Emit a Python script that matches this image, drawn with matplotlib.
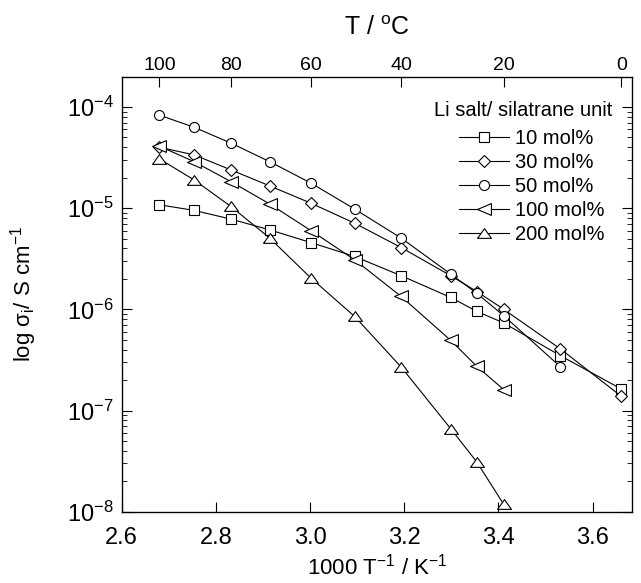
import numpy as np
import matplotlib
matplotlib.use("Agg")
from matplotlib import pyplot as plt
from matplotlib.ticker import LogLocator, NullFormatter, FixedLocator

plt.rcParams['font.family'] = ['Liberation Sans', 'DejaVu Sans']
plt.rcParams['mathtext.fontset'] = 'custom'
plt.rcParams['mathtext.rm'] = 'Liberation Sans'
plt.rcParams['mathtext.it'] = 'Liberation Sans:italic'
plt.rcParams['mathtext.default'] = 'regular'

# measurement temperatures (deg C)
temps = [100, 90, 80, 70, 60, 50, 40, 30, 25, 20, 10, 0]

labels = ['10 mol%', '30 mol%', '50 mol%', '100 mol%', '200 mol%']
sig_10 = [1.08e-5, 9.5e-6, 7.8e-6, 6.1e-6, 4.57e-6, 3.33e-6, 2.15e-6, 1.31e-6,
          9.55e-7, 7.33e-7, 3.48e-7, 1.63e-7]
sig_30 = [4.0e-5, 3.36e-5, 2.39e-5, 1.66e-5, 1.12e-5, 7.1e-6, 4.08e-6, 2.15e-6,
          1.5e-6, 1.0e-6, 4.06e-7, 1.38e-7]
sig_50 = [8.3e-5, 6.3e-5, 4.4e-5, 2.88e-5, 1.77e-5, 9.8e-6, 5.06e-6, 2.23e-6,
          1.44e-6, 8.65e-7, 2.7e-7]
sig_100 = [4.1e-5, 2.88e-5, 1.83e-5, 1.1e-5, 6.0e-6, 3.09e-6, 1.34e-6, 4.93e-7,
           2.73e-7, 1.61e-7]
sig_200 = [3.07e-5, 1.9e-5, 1.04e-5, 5.06e-6, 2.04e-6, 8.5e-7, 2.69e-7, 6.6e-8,
           3.1e-8, 1.18e-8]

top_ticks_c = [100, 80, 60, 40, 20, 0]
bottom_ticks = [2.6, 2.8, 3.0, 3.2, 3.4, 3.6]

#wide triangles like the original
tri_up = [(-1, -0.7), (1, -0.7), (0, 0.7), (-1, -0.7)]
tri_left = [(1, -0.85), (1, 0.85), (-1, 0), (1, -0.85)]

series = [sig_10, sig_30, sig_50, sig_100, sig_200]
markers = ['s', 'D', 'o', tri_left, tri_up]
msizes = [7.2, 6.6, 7.2, 10, 10]

fig = plt.figure(figsize=(6.41, 5.83), dpi=100)
ax = fig.add_axes([0.19, 0.1223, 0.7955, 0.7457])

for sig, mk, ms, lab in zip(series, markers, msizes, labels):
	x = 1000.0 / (np.array(temps[:len(sig)]) + 273.15)
	ax.plot(x, sig, color='black', lw=0.8, marker=mk, ms=ms, mfc='white',
			mec='black', mew=0.8, label=lab)

ax.set_yscale('log')
ax.set_xlim(2.6, 3.683)
ax.set_xticks(bottom_ticks)
ax.set_xticklabels(['%.1f' % t for t in bottom_ticks])
ax.yaxis.set_minor_locator(LogLocator(base=10, subs=np.arange(2, 10), numticks=20))
ax.yaxis.set_minor_formatter(NullFormatter())
ax.set_yticks([1e-8, 1e-7, 1e-6, 1e-5, 1e-4])
ax.set_yticklabels(['$10^{-%d}$' % k for k in [8, 7, 6, 5, 4]])
ax.set_ylim(1e-8, 1.98e-4)

ax.tick_params(axis='x', which='both', direction='in', top=False, length=7,
			   width=0.8, labelsize=17, pad=11)
ax.tick_params(axis='y', which='major', direction='in', right=True, length=7,
			   width=0.8, labelsize=17, pad=6)
ax.tick_params(axis='y', which='minor', direction='in', right=True, length=3.5,
			   width=0.6)
for s in ax.spines.values():
	s.set_linewidth(0.9)

ax.set_xlabel('1000 T$^{-1}$ / K$^{-1}$', fontsize=16, labelpad=3)
ax.set_ylabel('log $\\sigma_i$/ S cm$^{-1}$', fontsize=16, labelpad=20)

top = ax.twiny()
top.set_xlim(ax.get_xlim())
top.xaxis.set_major_locator(FixedLocator([1000.0 / (t + 273.15) for t in top_ticks_c]))
top.set_xticklabels([str(t) for t in top_ticks_c])
top.tick_params(axis='x', direction='in', length=7, width=0.8, labelsize=14, pad=2)
top.set_xlabel('T / $^{o}$C', fontsize=18, labelpad=16)

# legend title drawn separately, entries sit a bit right of its centre
ax.text(0.9614, 0.9218, 'Li salt/ silatrane unit', transform=ax.transAxes,
		ha='right', va='center', fontsize=14.5)
leg = ax.legend(loc='upper left', bbox_to_anchor=(0.6614, 0.8794), frameon=False,
				fontsize=14.5, handlelength=2.5, handletextpad=0.3,
				labelspacing=0.24, borderpad=0, borderaxespad=0)

fig.savefig('out.png', dpi=100)
